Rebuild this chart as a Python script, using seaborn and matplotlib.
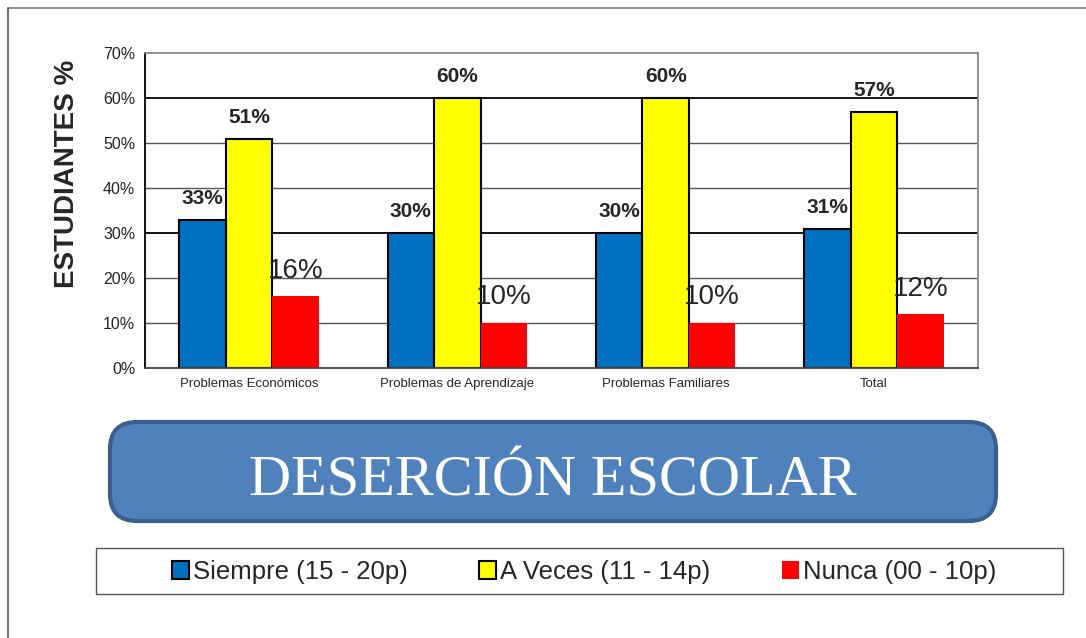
import numpy as np
import pandas as pd
import matplotlib
matplotlib.use('Agg')
import matplotlib.pyplot as plt
import seaborn as sns
from matplotlib.patches import FancyBboxPatch, Rectangle, Patch
from matplotlib.lines import Line2D

# Datos
categorias = ['Problemas Económicos', 'Problemas de Aprendizaje',
              'Problemas Familiares', 'Total']
series = ['Siempre (15 - 20p)', 'A Veces (11 - 14p)', 'Nunca (00 - 10p)']
siempre = [33, 30, 30, 31]
a_veces = [51, 60, 60, 57]
nunca = [16, 10, 10, 12]
colores = ['#0070C0', '#FFFF00', '#FF0000']

df = pd.DataFrame({
    'categoria': categorias * 3,
    'serie': np.repeat(series, len(categorias)),
    'valor': siempre + a_veces + nunca,
})

sns.set_style('white')
plt.rcParams['font.family'] = ['Liberation Sans', 'DejaVu Sans']

fig = plt.figure(figsize=(10.86, 6.38), dpi=100)
W, H = 1086, 638

# marco exterior (solo arriba e izquierda)
fig.lines.append(Line2D([8 / W, 1], [1 - 8 / H, 1 - 8 / H], transform=fig.transFigure,
                        color='#808080', lw=1.2))
fig.lines.append(Line2D([8 / W, 8 / W], [0, 1 - 8 / H], transform=fig.transFigure,
                        color='#555555', lw=1.2))

ax = fig.add_axes([145 / W, 1 - 368 / H, (978 - 145) / W, (368 - 53) / H])
sns.barplot(data=df, x='categoria', y='valor', hue='serie', palette=colores,
            width=0.67, ax=ax, legend=False, saturation=1)

for i, cont in enumerate(ax.containers):
    for bar in cont:
        if i < 2:
            bar.set_edgecolor('black')
            bar.set_linewidth(1.5)
        else:
            bar.set_edgecolor('none')
    for bar, v in zip(cont, df[df['serie'] == series[i]]['valor']):
        cx = bar.get_x() + bar.get_width() / 2
        if i < 2:
            ax.annotate(f'{v}%', (cx, v), xytext=(0, 8.5), textcoords='offset points',
                        ha='center', va='bottom', fontsize=15, fontweight='bold')
        else:
            ax.annotate(f'{v}%', (cx, v), xytext=(0, 9), textcoords='offset points',
                        ha='center', va='bottom', fontsize=20)

ax.set_ylim(0, 70)
ax.set_xlim(-0.5, 3.5)
ax.set_yticks(range(0, 71, 10))
ax.set_yticklabels([f'{t}%' for t in range(0, 71, 10)], fontsize=11.5, color='#222222')
for t in range(10, 70, 10):
    if t in (30, 60):
        ax.axhline(t, color='black', lw=1.3, zorder=0)
    else:
        ax.axhline(t, color='#555555', lw=1.0, zorder=0)
ax.set_axisbelow(True)

ax.set_xticks(range(4))
ax.set_xticklabels(categorias, fontsize=9.5)
ax.tick_params(axis='x', which='major', length=0, pad=7)
ax.set_xticks([0.5, 1.5, 2.5, 3.5], minor=True)
ax.tick_params(axis='x', which='minor', length=4, direction='out', color='#444444')
ax.tick_params(axis='y', length=4, direction='out', color='black', pad=3)
ax.set_xlabel('')
ax.set_ylabel('ESTUDIANTES %', fontsize=20, fontweight='bold')
ax.yaxis.set_label_coords(-0.078, 0.615)

ax.spines['left'].set_color('black')
ax.spines['bottom'].set_color('#444444')
ax.spines['top'].set_color('#888888')
ax.spines['right'].set_color('#888888')
for s in ax.spines.values():
    s.set_visible(True)
    s.set_linewidth(1.3)

# caja del titulo
caja = FancyBboxPatch((110 / W, 1 - 521 / H), (996 - 110) / W, (521 - 422) / H,
                      boxstyle='round,pad=0,rounding_size=0.025', transform=fig.transFigure,
                      facecolor='#4F81BD', edgecolor='#3A5F8C', lw=3, mutation_aspect=1.7)
fig.patches.append(caja)
fig.text(553 / W, 1 - 495 / H, 'DESERCIÓN ESCOLAR', ha='center', va='baseline',
         fontsize=42, color='white', family=['Liberation Serif', 'DejaVu Serif'])

# leyenda
fig.patches.append(Rectangle((96 / W, 1 - 594 / H), (1063 - 96) / W, (594 - 548) / H,
                             transform=fig.transFigure, fill=False,
                             edgecolor='#555555', lw=1.0))
handles = [Patch(facecolor=colores[0], edgecolor='black', lw=1.5),
           Patch(facecolor=colores[1], edgecolor='black', lw=1.5),
           Patch(facecolor=colores[2], edgecolor='none')]
leg = fig.legend(handles, series, loc='center', ncol=3,
                 bbox_to_anchor=(584 / W, 1 - 572 / H),
                 bbox_transform=fig.transFigure, fontsize=18.5,
                 frameon=False, handlelength=0.65, handleheight=0.65,
                 handletextpad=0.15, columnspacing=2.8)

fig.savefig('out.png', dpi=100)
